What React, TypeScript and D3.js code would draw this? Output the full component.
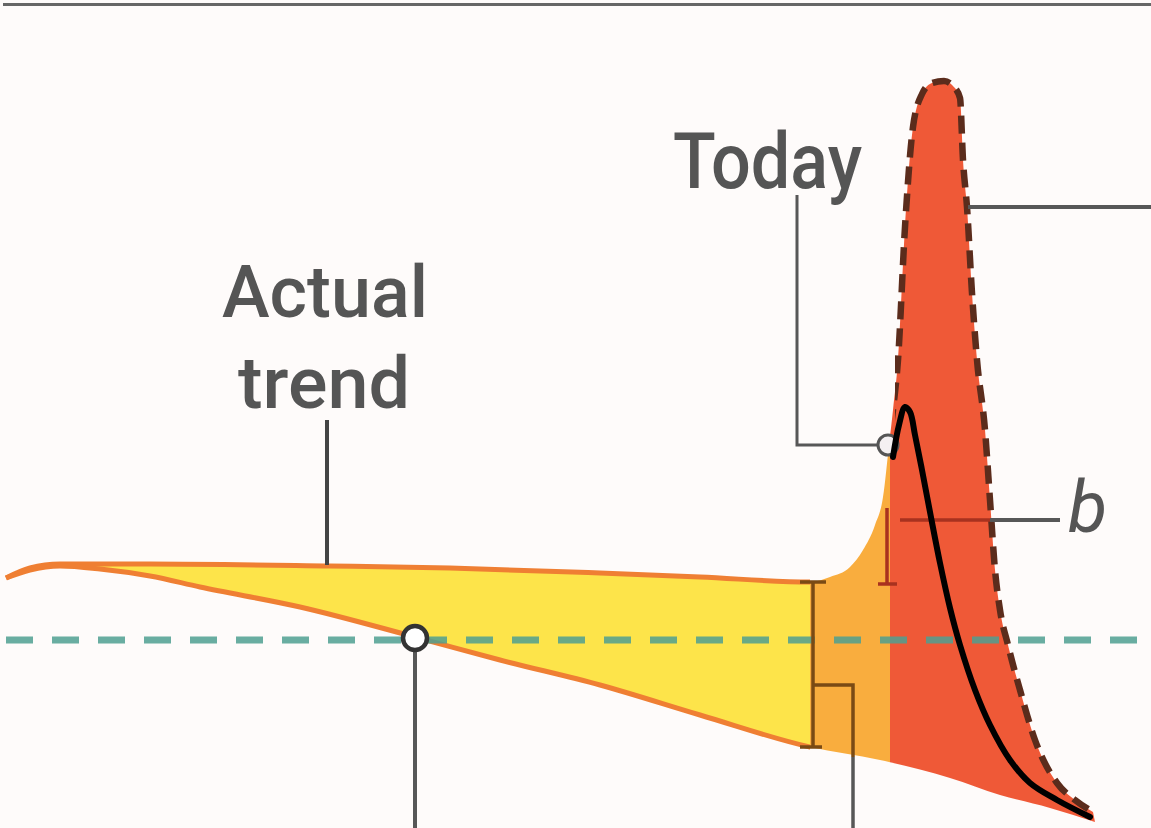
import React from "react";
import * as d3 from "d3";

// ---- data (t = time units, level = value units) ----
const upperTrend: [number, number][] = [
  [0.6, 25.0], [3.0, 26.0], [6.0, 26.4], [15.0, 26.4], [33.0, 26.2], [45.0, 26.0],
  [60.0, 25.5], [70.0, 25.1], [81.0, 24.6], [83.0, 25.1], [85.0, 26.1], [86.3, 27.8],
  [87.5, 30.3], [88.3, 33.1], [88.9, 38.3], [89.3, 41.8], [89.8, 46.8], [90.5, 60.1],
  [91.3, 70.1], [92.2, 73.4], [93.2, 74.5], [94.4, 74.7], [95.3, 74.2], [96.0, 73.0],
  [96.3, 66.8], [96.7, 62.1], [97.2, 53.5], [97.7, 46.8], [98.5, 39.8], [99.0, 32.8],
  [99.5, 25.8], [100.0, 21.8], [100.8, 18.3], [102.0, 13.8], [103.5, 8.8], [105.7, 4.5],
  [107.5, 2.8], [109.3, 1.6],
];
const lowerTrend: [number, number][] = [
  [0.6, 25.0], [3.0, 25.8], [6.0, 26.2], [10.0, 25.9], [15.0, 25.2], [20.0, 24.1],
  [30.0, 22.1], [41.5, 19.1], [50.0, 16.8], [60.0, 14.3], [70.0, 11.3], [81.0, 8.1],
  [88.0, 6.8], [95.0, 5.0], [100.0, 3.3], [105.0, 2.0], [109.5, 0.6],
];
const modelCurve: [number, number][] = [
  [89.3, 37.1], [89.9, 40.3], [90.5, 42.1], [91.0, 41.6], [91.5, 39.3], [92.2, 35.8],
  [93.0, 31.6], [94.0, 26.5], [95.0, 22.0], [96.0, 18.3], [97.5, 13.8], [99.0, 10.3],
  [101.0, 6.8], [103.0, 4.5], [105.7, 2.8], [109.0, 1.1],
];
const zoneBreaks = [81.0, 89.0];
const baselineLevel = 18.8;
const crossPoint: [number, number] = [41.5, 19.0];
const todayPoint: [number, number] = [88.8, 38.3];
const bLevel = 30.8;
const labels = ["Actual", "trend", "Today", "b"];

const W = 1151;
const H = 828;

export default function App() {
  const x = d3.scaleLinear().domain([0, 115.1]).range([0, W]);
  const y = d3.scaleLinear().domain([0, 82.8]).range([H, 0]);

  const line = d3
    .line<[number, number]>()
    .x((d) => x(d[0]))
    .y((d) => y(d[1]))
    .curve(d3.curveMonotoneX);
  const upperPath = line(upperTrend) as string;
  const lowerPath = line(lowerTrend) as string;
  const lowerRev = line(lowerTrend.slice().reverse()) as string;
  const shapePath = upperPath + "L" + lowerRev.slice(1) + "Z";

  const modelLine = d3
    .line<[number, number]>()
    .x((d) => x(d[0]))
    .y((d) => y(d[1]))
    .curve(d3.curveCatmullRom.alpha(0.5));

  const xb0 = x(zoneBreaks[0]);
  const xb1 = x(zoneBreaks[1]);

  const grey = "#575757";

  return (
    <div>
      <style>{"body{margin:0;background:#fff}"}</style>
      <svg width={W} height={H} style={{ display: "block" }}>
        <defs>
          <clipPath id="zYellow">
            <rect x={0} y={0} width={xb0} height={H} />
          </clipPath>
          <clipPath id="zOrange">
            <rect x={xb0} y={0} width={xb1 - xb0} height={H} />
          </clipPath>
          <clipPath id="zRed">
            <rect x={xb1} y={0} width={W - xb1} height={H} />
          </clipPath>
          <clipPath id="zSpike">
            <rect x={x(89.5)} y={0} width={W} height={H} />
          </clipPath>
        </defs>
        <rect x={0} y={0} width={W} height={H} fill="#fefbfa" />
        <line x1={3} x2={W} y1={4.5} y2={4.5} stroke="#666" strokeWidth={3} />

        {/* fills */}
        <path d={shapePath} fill="#fde44a" clipPath="url(#zYellow)" />
        <path d={shapePath} fill="#f9ad3e" clipPath="url(#zOrange)" />
        <path d={shapePath} fill="#ef5937" clipPath="url(#zRed)" />

        {/* outline strokes of the trend band */}
        <path d={upperPath} fill="none" stroke="#ef7f33" strokeWidth={5} clipPath="url(#zYellow)" />
        <path d={lowerPath} fill="none" stroke="#ef7f33" strokeWidth={5} clipPath="url(#zYellow)" />

        {/* baseline dashed */}
        <line
          x1={6}
          x2={W}
          y1={y(baselineLevel)}
          y2={y(baselineLevel)}
          stroke="#4f9f90"
          strokeOpacity={0.85}
          strokeWidth={7}
          strokeDasharray="27 19"
        />

        {/* spike dashed outline */}
        <path
          d={upperPath}
          fill="none"
          stroke="#5b2c1c"
          strokeWidth={6.5}
          strokeDasharray="18 9"
          clipPath="url(#zSpike)"
        />

        {/* bracket in orange zone */}
        <g stroke="#7a4a14" strokeWidth={3.5} fill="none">
          <line x1={x(81.3)} x2={x(81.3)} y1={y(24.6)} y2={y(8.1)} />
          <line x1={x(80.0)} x2={x(82.6)} y1={y(24.6)} y2={y(24.6)} />
          <line x1={x(80.0)} x2={x(82.2)} y1={y(8.1)} y2={y(8.1)} />
          <polyline points={`${x(81.3)},${y(14.3)} ${x(85.3)},${y(14.3)} ${x(85.3)},${y(7.1)}`} />
        </g>
        <line x1={x(85.3)} x2={x(85.3)} y1={y(7.1)} y2={H} stroke={grey} strokeWidth={3.5} />

        {/* b marker */}
        <g stroke="#a8321f" strokeWidth={3.5}>
          <line x1={x(88.7)} x2={x(88.7)} y1={y(32.0)} y2={y(24.4)} />
          <line x1={x(87.8)} x2={x(89.7)} y1={y(24.4)} y2={y(24.4)} />
          <line x1={x(90.0)} x2={x(99.0)} y1={y(bLevel)} y2={y(bLevel)} />
        </g>
        <line x1={x(99.0)} x2={x(106.0)} y1={y(bLevel)} y2={y(bLevel)} stroke={grey} strokeWidth={4} />

        {/* leaders */}
        <line x1={x(32.7)} x2={x(32.7)} y1={y(40.8)} y2={y(26.3)} stroke="#444" strokeWidth={4} />
        <line x1={x(crossPoint[0])} x2={x(crossPoint[0])} y1={y(crossPoint[1]) + 12} y2={H} stroke={grey} strokeWidth={4} />
        <polyline
          points={`${x(79.7)},${y(63.3)} ${x(79.7)},${y(todayPoint[1])} ${x(todayPoint[0]) - 10},${y(todayPoint[1])}`}
          fill="none"
          stroke={grey}
          strokeWidth={3}
        />
        <line x1={x(96.8)} x2={W} y1={y(62.1)} y2={y(62.1)} stroke={grey} strokeWidth={4} />

        {/* point markers */}
        <circle cx={x(crossPoint[0])} cy={y(crossPoint[1])} r={12} fill="#fff" stroke="#333" strokeWidth={4.5} />
        <circle cx={x(todayPoint[0])} cy={y(todayPoint[1])} r={10} fill="#f4f0f2" stroke="#555" strokeWidth={3} />

        {/* model curve */}
        <path d={modelLine(modelCurve) as string} fill="none" stroke="#000" strokeWidth={6} strokeLinecap="round" strokeLinejoin="round" />

        {/* labels */}
        <g fill="#555" fontFamily="Roboto, 'Liberation Sans', Arial, sans-serif" fontWeight={500}>
          <text x={x(32.5)} y={y(51.1)} fontSize={73} textAnchor="middle" textLength={206} lengthAdjust="spacingAndGlyphs">
            {labels[0]}
          </text>
          <text x={x(32.4)} y={y(42.0)} fontSize={73} textAnchor="middle" textLength={172} lengthAdjust="spacingAndGlyphs">
            {labels[1]}
          </text>
          <text x={x(76.75)} y={y(64.0)} fontSize={77} textAnchor="middle" textLength={189} lengthAdjust="spacingAndGlyphs">
            {labels[2]}
          </text>
          <text x={x(106.8)} y={y(29.6)} fontSize={72} fontStyle="italic" fontWeight={400}>
            {labels[3]}
          </text>
        </g>
      </svg>
    </div>
  );
}
